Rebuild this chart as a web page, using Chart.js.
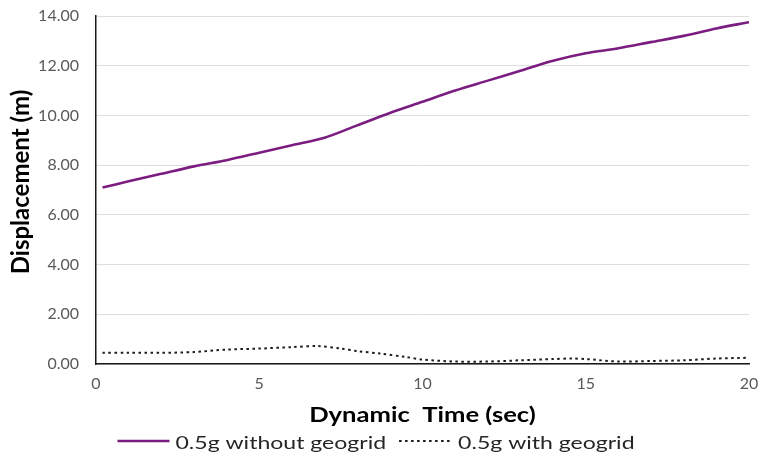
<!DOCTYPE html>
<html>
<head>
<meta charset="utf-8">
<script src="https://cdn.jsdelivr.net/npm/chart.js@4.4.1/dist/chart.umd.min.js"></script>
<style>
  html, body { margin: 0; padding: 0; background: #ffffff; }
  #wrap { width: 758px; height: 459px; }
</style>
</head>
<body>
<div id="wrap"><canvas id="chart" width="758" height="459"></canvas></div>
<script>
// Dynamic time samples (sec) and displacement (m) for each case
const timeWithout = [0.2, 1, 2, 3, 4, 5, 6, 7, 8, 9, 10, 11, 12, 13, 14, 15, 16, 17, 18, 19, 20];
const dispWithout = [7.1, 7.35, 7.65, 7.95, 8.2, 8.5, 8.8, 9.1, 9.6, 10.1, 10.55, 11.0, 11.4, 11.8, 12.2, 12.5, 12.7, 12.95, 13.2, 13.5, 13.75];

const timeWith = [0.2, 1, 2, 3, 4, 5, 6, 6.8, 7.5, 8, 8.7, 9.5, 10, 11, 12, 13, 14, 14.6, 15, 16, 17, 18, 19, 20];
const dispWith = [0.45, 0.45, 0.45, 0.48, 0.58, 0.62, 0.68, 0.72, 0.62, 0.52, 0.42, 0.28, 0.18, 0.1, 0.1, 0.15, 0.2, 0.22, 0.2, 0.1, 0.12, 0.15, 0.22, 0.25];

const seriesNames = ['0.5g without geogrid', '0.5g with geogrid'];
const xTitle = 'Dynamic  Time (sec)';
const yTitle = 'Displacement (m)';
const xTicks = [0, 5, 10, 15, 20];
const yTicks = [0, 2, 4, 6, 8, 10, 12, 14];

const toPoints = (xs, ys) => xs.map((x, i) => ({ x: x, y: ys[i] }));

const fontFamily = 'Lato, "Open Sans", sans-serif';
const WIDE = 1.28; // horizontal text widening used for the titles and legend

// Draws a string widened horizontally, starting at x (left aligned)
function wideText(ctx, text, x, y, k) {
  ctx.save();
  ctx.translate(x, y);
  ctx.scale(k, 1);
  ctx.textAlign = 'left';
  ctx.fillText(text, 0, 0);
  ctx.restore();
  return ctx.measureText(text).width * k;
}

// Axis titles and the legend row under the plot
const titlesAndLegend = {
  id: 'titlesAndLegend',
  afterDraw(chart) {
    const ctx = chart.ctx;
    const area = chart.chartArea;
    ctx.save();
    ctx.textBaseline = 'alphabetic';

    // x-axis title
    ctx.fillStyle = '#000000';
    ctx.font = 'bold 20px ' + fontFamily;
    const xw = ctx.measureText(xTitle).width * WIDE;
    const cx = (area.left + area.right) / 2;
    wideText(ctx, xTitle, cx - xw / 2, 422, WIDE);

    // y-axis title
    ctx.save();
    ctx.translate(29, (area.top + area.bottom) / 2 - 8);
    ctx.rotate(-Math.PI / 2);
    ctx.font = 'bold 24px ' + fontFamily;
    ctx.textAlign = 'center';
    ctx.fillText(yTitle, 0, 0);
    ctx.restore();

    // legend
    ctx.font = '18px ' + fontFamily;
    const ds = chart.data.datasets;
    const sample = [52, 52];
    const gapAfterSample = [6, 7];
    const gapBetween = 13;
    const widths = ds.map(d => ctx.measureText(d.label).width * WIDE);
    const total = sample[0] + gapAfterSample[0] + widths[0] + gapBetween + sample[1] + gapAfterSample[1] + widths[1];
    let x = 376 - total / 2;
    const ly = 441;
    ds.forEach((d, i) => {
      if (i > 0) x += gapBetween;
      ctx.save();
      ctx.strokeStyle = d.borderColor;
      ctx.lineWidth = d.borderWidth;
      ctx.setLineDash(d.borderDash || []);
      ctx.beginPath();
      ctx.moveTo(x, ly);
      ctx.lineTo(x + sample[i], ly);
      ctx.stroke();
      ctx.restore();
      x += sample[i] + gapAfterSample[i];
      ctx.fillStyle = '#262626';
      x += wideText(ctx, d.label, x, 449, WIDE);
    });
    ctx.restore();
  }
};

new Chart(document.getElementById('chart'), {
  type: 'line',
  data: {
    datasets: [
      {
        label: seriesNames[0],
        data: toPoints(timeWithout, dispWithout),
        borderColor: '#7b1c80',
        backgroundColor: '#7b1c80',
        borderWidth: 2.6,
        pointRadius: 0,
        tension: 0.3,
        fill: false
      },
      {
        label: seriesNames[1],
        data: toPoints(timeWith, dispWith),
        borderColor: '#1a1a1a',
        backgroundColor: '#1a1a1a',
        borderWidth: 2,
        borderDash: [2.5, 3.5],
        pointRadius: 0,
        tension: 0.3,
        fill: false
      }
    ]
  },
  plugins: [titlesAndLegend],
  options: {
    responsive: false,
    animation: false,
    events: [],
    layout: { padding: { top: 16, right: 9, bottom: 0, left: 0 } },
    plugins: {
      tooltip: { enabled: false },
      legend: { display: false }
    },
    scales: {
      x: {
        type: 'linear',
        min: 0,
        max: 20,
        afterBuildTicks: (scale) => { scale.ticks = xTicks.map(v => ({ value: v })); },
        afterFit: (scale) => {
          scale.height = 95;
          scale.paddingLeft = 0;
          scale.paddingRight = 0;
        },
        grid: { display: false, drawTicks: false },
        border: { display: true, color: '#1a1a1a', width: 1.5 },
        ticks: {
          padding: 10,
          color: '#595959',
          font: { family: fontFamily, size: 16 },
          maxRotation: 0
        }
      },
      y: {
        min: 0,
        max: 14,
        afterBuildTicks: (scale) => { scale.ticks = yTicks.map(v => ({ value: v })); },
        afterFit: (scale) => {
          scale.width = 96;
          scale.paddingTop = 0;
          scale.paddingBottom = 0;
        },
        grid: { color: '#dedede', lineWidth: 1, drawTicks: false },
        border: { display: true, color: '#1a1a1a', width: 1.5 },
        ticks: {
          padding: 17,
          color: '#595959',
          font: { family: fontFamily, size: 16 },
          callback: (v) => Number(v).toFixed(2)
        }
      }
    }
  }
});
</script>
</body>
</html>
